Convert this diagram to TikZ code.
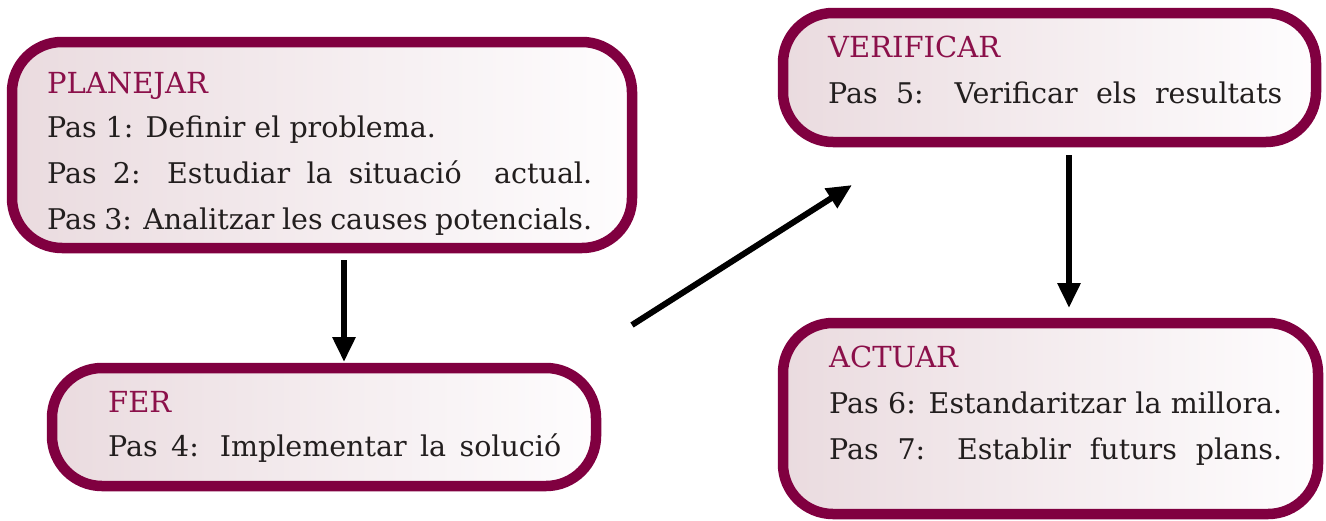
\documentclass[tikz,border=0pt]{standalone}
\usepackage{fontspec}
\setmainfont{DejaVu Serif}
\usetikzlibrary{arrows.meta}
\definecolor{bord}{RGB}{128,0,64}
\definecolor{titc}{RGB}{139,16,74}
\definecolor{txt}{RGB}{34,30,30}
\definecolor{fleft}{RGB}{234,219,223}
\definecolor{fright}{RGB}{254,253,254}
\tikzset{
  boxshape/.style={draw=bord, line width=10.5pt, rounded corners=50pt, left color=fleft, right color=fright},
  ttl/.style={anchor=base west, inner sep=0pt, text=titc, font=\fontsize{29}{33}\selectfont},
  body/.style={anchor=base west, inner sep=0pt, text=txt, font=\fontsize{28.5}{33}\selectfont},
  arr/.style={line width=6pt, -{Triangle[length=25pt,width=22pt]}},
}
\begin{document}
\begin{tikzpicture}[x=1pt,y=-1pt]
\useasboundingbox (0,0) rectangle (1326,520);
% boxes
\draw[boxshape] (12,42) rectangle (632,248);
\coordinate (b1s) at (344,260);
\draw[boxshape] (52,368) rectangle (596,486);
\coordinate (b2n) at (344,362);
\draw[boxshape] (783,13) rectangle (1316,142);
\draw[boxshape] (783,323) rectangle (1318,514);
% box 1
\node[ttl] (t1) at (47,93) {PLANEJAR};
\node[body] (l1) at (47,137) {Pas 1: Definir el problema.};
\node[body] (l2) at (47,183) {\makebox[545pt][s]{Pas 2: Estudiar la situació \ actual.}};
\node[body] (l3) at (47,229) {\makebox[545pt][s]{Pas 3: Analitzar les causes potencials.}};
% box 2
\node[ttl] (t2) at (108,412) {FER};
\node[body] (l4) at (108,456) {\makebox[453pt][s]{Pas 4: Implementar la solució}};
% box 3
\node[ttl] (t3) at (828,57) {VERIFICAR};
\node[body] (l5) at (828,103) {\makebox[454pt][s]{Pas 5: Verificar els resultats}};
% box 4
\node[ttl] (t4) at (829,367) {ACTUAR};
\node[body] (l6) at (829,413) {\makebox[453pt][s]{Pas 6: Estandaritzar la millora.}};
\node[body] (l7) at (829,459) {\makebox[453pt][s]{Pas 7: Establir futurs plans.}};
% arrows
\coordinate (a2s) at (632,325);
\coordinate (a2e) at (852,185);
\coordinate (a3s) at (1069,155);
\coordinate (a3e) at (1069,308);
\draw[arr] (b1s) -- (b2n);
\draw[arr] (a2s) -- (a2e);
\draw[arr] (a3s) -- (a3e);
\end{tikzpicture}
\end{document}
